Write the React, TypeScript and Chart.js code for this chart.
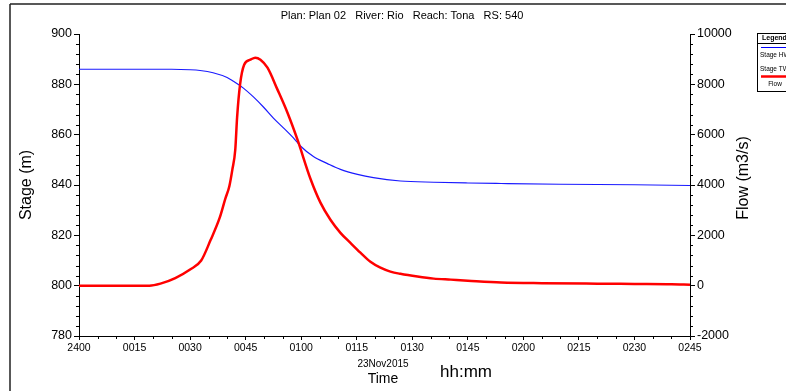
import { useEffect, useRef } from 'react';
import { Chart, registerables } from 'chart.js';

Chart.register(...registerables);

const FONT = '"Liberation Sans", Arial, Helvetica, sans-serif';

const chartTitle = 'Plan: Plan 02   River: Rio   Reach: Tona   RS: 540';
const dateLabel = '23Nov2015';
const xTitle = 'Time';
const xUnits = 'hh:mm';
const leftTitle = 'Stage (m)';
const rightTitle = 'Flow (m3/s)';
const legendTitle = 'Legend';
const legendNames = ['Stage HW', 'Stage TW', 'Flow'];

const xTickMinutes = [0, 15, 30, 45, 60, 75, 90, 105, 120, 135, 150, 165];
const xTickLabels = ['2400', '0015', '0030', '0045', '0100', '0115', '0130', '0145', '0200', '0215', '0230', '0245'];
const stageTicks = [780, 800, 820, 840, 860, 880, 900];
const flowTicks = [-2000, 0, 2000, 4000, 6000, 8000, 10000];

// Stage HW (left axis, m)
const stageTimes = [0, 10, 20, 25, 30, 32.7, 36.2, 40, 41.7, 44.4, 47.1, 49.8, 52.5, 55.2, 57.9, 59.8, 63.3, 67.1, 70.6, 75.2, 79.5, 86.8, 95.8, 105, 114, 130, 150, 165];
const stageValues = [886, 886, 886, 886, 885.8, 885.5, 884.6, 882.7, 881.2, 878.5, 875, 871, 866.6, 862.7, 858.7, 855.5, 851.3, 848.5, 846.2, 844.2, 842.9, 841.6, 841.1, 840.8, 840.6, 840.3, 840.1, 839.8];

// Flow (right axis, m3/s)
const flowTimes = [0, 10, 19, 22, 26, 30, 33, 35.5, 38, 39.5, 40.6, 41.4, 42.2, 42.7, 43.5, 44.6, 46.3, 47.6, 49, 50.9, 53.6, 56.3, 59, 62.5, 65.2, 67.9, 70.6, 73.3, 76, 78.7, 81.4, 84.1, 86.8, 91.4, 95.8, 100.4, 105, 114, 125, 140, 150, 160, 165];
const flowValues = [0, 0, 0, 80, 300, 640, 1000, 1800, 2700, 3450, 3950, 4600, 5400, 6700, 8000, 8780, 8980, 9060, 8980, 8660, 7790, 6870, 5800, 4250, 3300, 2620, 2100, 1700, 1310, 950, 715, 560, 470, 360, 280, 240, 200, 130, 100, 80, 70, 60, 40];

const decorPlugin = {
  id: 'decor',
  afterDraw(chart: any) {
    const ctx = chart.ctx as CanvasRenderingContext2D;
    const xs = chart.scales.x;
    const ys = chart.scales.y;
    const y1s = chart.scales.y1;
    const area = chart.chartArea;
    ctx.save();
    ctx.strokeStyle = '#000';
    ctx.lineWidth = 1;
    ctx.beginPath();
    for (let v = xs.min; v <= xs.max + 1e-6; v += 5) {
      if (Math.abs(v % 15) < 1e-6) continue;
      const px = Math.round(xs.getPixelForValue(v)) + 0.5;
      ctx.moveTo(px, area.bottom);
      ctx.lineTo(px, area.bottom + 3);
    }
    for (let v = ys.min; v <= ys.max + 1e-6; v += 4) {
      if (Math.abs(v % 20) < 1e-6) continue;
      const py = Math.round(ys.getPixelForValue(v)) + 0.5;
      ctx.moveTo(area.left - 3, py);
      ctx.lineTo(area.left, py);
    }
    for (let v = y1s.min; v <= y1s.max + 1e-6; v += 400) {
      if (Math.abs(v % 2000) < 1e-6) continue;
      const py = Math.round(y1s.getPixelForValue(v)) + 0.5;
      ctx.moveTo(area.right, py);
      ctx.lineTo(area.right + 3, py);
    }
    ctx.stroke();

    // outer frame (top and left)
    ctx.beginPath();
    ctx.lineWidth = 1.5;
    ctx.strokeStyle = '#222';
    ctx.moveTo(10, 4);
    ctx.lineTo(chart.width, 4);
    ctx.moveTo(10, 4);
    ctx.lineTo(10, chart.height);
    ctx.stroke();

    // title
    ctx.fillStyle = '#000';
    ctx.textAlign = 'center';
    ctx.textBaseline = 'middle';
    ctx.font = `11px ${FONT}`;
    ctx.fillText(chartTitle, 402, 16);

    // x axis texts
    ctx.font = `10px ${FONT}`;
    ctx.fillText(dateLabel, 383, 364);
    ctx.font = `14px ${FONT}`;
    ctx.fillText(xTitle, 383, 379);
    ctx.font = `17px ${FONT}`;
    ctx.fillText(xUnits, 466, 372);

    // y axis titles
    ctx.font = `16px ${FONT}`;
    ctx.save();
    ctx.translate(27, (area.top + area.bottom) / 2);
    ctx.rotate(-Math.PI / 2);
    ctx.fillText(leftTitle, 0, 0);
    ctx.restore();
    ctx.save();
    ctx.translate(744, 178);
    ctx.rotate(-Math.PI / 2);
    ctx.fillText(rightTitle, 0, 0);
    ctx.restore();

    // legend box
    ctx.fillStyle = '#fff';
    ctx.fillRect(757, 33, 40, 58);
    ctx.lineWidth = 1;
    ctx.strokeStyle = '#000';
    ctx.strokeRect(757.5, 33.5, 40, 58);
    ctx.beginPath();
    ctx.moveTo(757, 43.5);
    ctx.lineTo(797, 43.5);
    ctx.stroke();
    ctx.fillStyle = '#000';
    ctx.textAlign = 'left';
    ctx.font = `bold 7px ${FONT}`;
    ctx.fillText(legendTitle, 762, 38.5);
    ctx.beginPath();
    ctx.strokeStyle = '#0000ff';
    ctx.lineWidth = 1;
    ctx.moveTo(761, 47.5);
    ctx.lineTo(797, 47.5);
    ctx.stroke();
    ctx.font = `6.5px ${FONT}`;
    ctx.fillText(legendNames[0], 760, 55);
    ctx.fillText(legendNames[1], 760, 69);
    ctx.beginPath();
    ctx.strokeStyle = '#ff0000';
    ctx.lineWidth = 2.5;
    ctx.moveTo(761, 76.5);
    ctx.lineTo(797, 76.5);
    ctx.stroke();
    ctx.textAlign = 'center';
    ctx.fillText(legendNames[2], 775, 84);
    ctx.restore();
  },
};

export default function App() {
  const ref = useRef<HTMLCanvasElement | null>(null);

  useEffect(() => {
    const canvas = ref.current;
    if (!canvas) return;
    const chart = new Chart(canvas, {
      type: 'line',
      data: {
        datasets: [
          {
            label: 'Flow',
            data: flowTimes.map((t, i) => ({ x: t, y: flowValues[i] })),
            yAxisID: 'y1',
            borderColor: '#ff0000',
            borderWidth: 2.5,
            pointRadius: 0,
            cubicInterpolationMode: 'monotone',
            fill: false,
          },
          {
            label: 'Stage HW',
            data: stageTimes.map((t, i) => ({ x: t, y: stageValues[i] })),
            yAxisID: 'y',
            borderColor: '#1a1aff',
            borderWidth: 1.2,
            pointRadius: 0,
            cubicInterpolationMode: 'monotone',
            fill: false,
          },
        ],
      },
      options: {
        animation: false,
        responsive: false,
        devicePixelRatio: 1,
        layout: { padding: { top: 34, left: 0, right: 0, bottom: 0 } },
        plugins: {
          legend: { display: false },
          title: { display: false },
          tooltip: { enabled: false },
        },
        scales: {
          x: {
            type: 'linear',
            min: 0,
            max: 165,
            afterBuildTicks: (s: any) => {
              s.ticks = xTickMinutes.map((v) => ({ value: v }));
            },
            afterFit: (s: any) => {
              s.height = 55;
            },
            ticks: {
              autoSkip: false,
              maxRotation: 0,
              minRotation: 0,
              padding: 2,
              color: '#000',
              font: { size: 10.5, family: FONT },
              callback: (v: any) => xTickLabels[xTickMinutes.indexOf(Number(v))] ?? '',
            },
            grid: { drawOnChartArea: false, tickLength: 4, color: '#000' },
            border: { color: '#000' },
          },
          y: {
            position: 'left',
            min: 780,
            max: 900,
            afterBuildTicks: (s: any) => {
              s.ticks = stageTicks.map((v) => ({ value: v }));
            },
            afterFit: (s: any) => {
              s.width = 79;
            },
            ticks: {
              padding: 2,
              color: '#000',
              font: { size: 12.5, family: FONT },
              callback: (v: any) => String(v),
            },
            grid: { drawOnChartArea: false, tickLength: 5, color: '#000' },
            border: { color: '#000' },
          },
          y1: {
            position: 'right',
            min: -2000,
            max: 10000,
            afterBuildTicks: (s: any) => {
              s.ticks = flowTicks.map((v) => ({ value: v }));
            },
            afterFit: (s: any) => {
              s.width = 96;
            },
            ticks: {
              padding: 2,
              color: '#000',
              font: { size: 12.5, family: FONT },
              callback: (v: any) => String(v),
            },
            grid: { drawOnChartArea: false, tickLength: 5, color: '#000' },
            border: { color: '#000' },
          },
        },
      } as any,
      plugins: [decorPlugin],
    });
    return () => chart.destroy();
  }, []);

  return (
    <div style={{ position: 'fixed', left: 0, top: 0, width: 786, height: 391, background: '#fff' }}>
      <canvas ref={ref} width={786} height={391} style={{ width: 786, height: 391, display: 'block' }} />
    </div>
  );
}
